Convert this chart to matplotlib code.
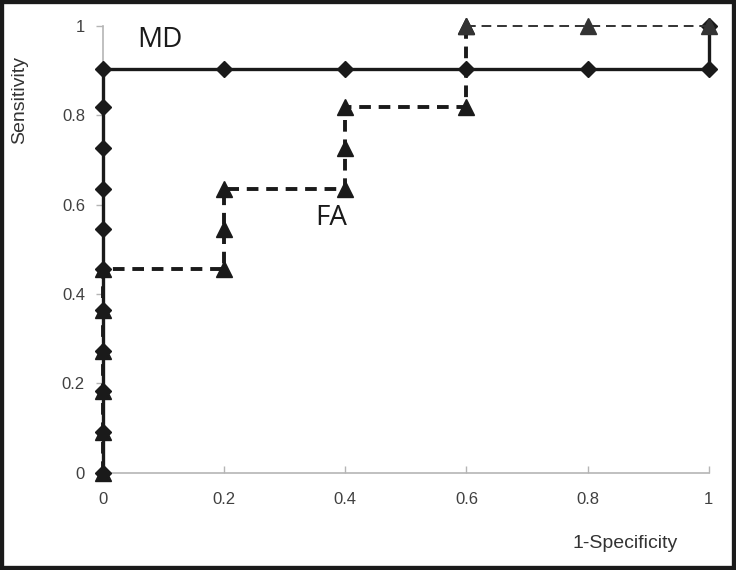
import matplotlib.pyplot as plt
from matplotlib.patches import Rectangle

# ROC points (11 positives -> steps of 1/11)
md_x = [0, 0, 0, 0, 0, 0, 0, 0, 0, 0, 0, 0.2, 0.4, 0.6, 0.8, 1, 1]
md_y = [0, 0.091, 0.182, 0.273, 0.364, 0.455, 0.545, 0.636, 0.727, 0.818, 0.905,
        0.905, 0.905, 0.905, 0.905, 0.905, 1.0]

fa_x = [0, 0, 0, 0, 0, 0, 0.2, 0.2, 0.2, 0.4, 0.4, 0.4, 0.6, 0.6, 0.8, 1]
fa_y = [0, 0.091, 0.182, 0.273, 0.364, 0.455, 0.455, 0.545, 0.636, 0.636, 0.727,
        0.818, 0.818, 1.0, 1.0, 1.0]

ticks = [0, 0.2, 0.4, 0.6, 0.8, 1]
tick_labels = ['0', '0.2', '0.4', '0.6', '0.8', '1']

fig = plt.figure(figsize=(7.36, 5.70), dpi=100)
ax = fig.add_axes([0.140, 0.171, 0.823, 0.783])

# MD curve: solid with diamonds
ax.plot(md_x, md_y, color='#1a1a1a', lw=2.4, marker='D', markersize=8.5,
        clip_on=False, zorder=3)

# FA curve: thick dashed up to x=0.6, thin dashed along the top
ax.plot(fa_x[:-2], fa_y[:-2], color='#1a1a1a', lw=2.8, ls=(0, (3, 2)),
        marker='^', markersize=11, clip_on=False, zorder=4)
ax.plot(fa_x[-3:], fa_y[-3:], color='#333333', lw=1.4, ls=(0, (5, 3)),
        marker='^', markersize=11, clip_on=False, zorder=4)

ax.set_xlim(0, 1)
ax.set_ylim(0, 1)
ax.set_xticks(ticks)
ax.set_xticklabels(tick_labels)
ax.set_yticks(ticks)
ax.set_yticklabels(tick_labels)

for side in ['top', 'right']:
    ax.spines[side].set_visible(False)
for side in ['left', 'bottom']:
    ax.spines[side].set_color('#b5b5b5')
    ax.spines[side].set_linewidth(1.2)

ax.tick_params(axis='both', colors='#b5b5b5', labelcolor='#404040',
               labelsize=12, length=5, width=1)
ax.tick_params(axis='x', direction='in', pad=14)
ax.tick_params(axis='y', direction='out', pad=8)
for lab in ax.get_xticklabels() + ax.get_yticklabels():
    lab.set_family('Liberation Sans')

ax.text(0.056, 0.969, 'MD', fontsize=20, family='Open Sans', color='#1a1a1a',
        va='center', ha='left')
ax.text(0.351, 0.57, 'FA', fontsize=20, family='Open Sans', color='#1a1a1a',
        va='center', ha='left')

fig.text(625 / 736, 1 - 543 / 570, '1-Specificity', fontsize=14,
         family='Liberation Sans', color='#333333', ha='center', va='center')
fig.text(20 / 736, 1 - 100 / 570, 'Sensitivity', fontsize=14,
         family='Liberation Sans', color='#333333', ha='center', va='center',
         rotation=90)

# black frame around the whole picture
fig.patches.append(Rectangle((0, 0), 1, 1, transform=fig.transFigure,
                             fill=False, edgecolor='#1a1a1a', lw=6))

fig.savefig('out.png', dpi=100)
